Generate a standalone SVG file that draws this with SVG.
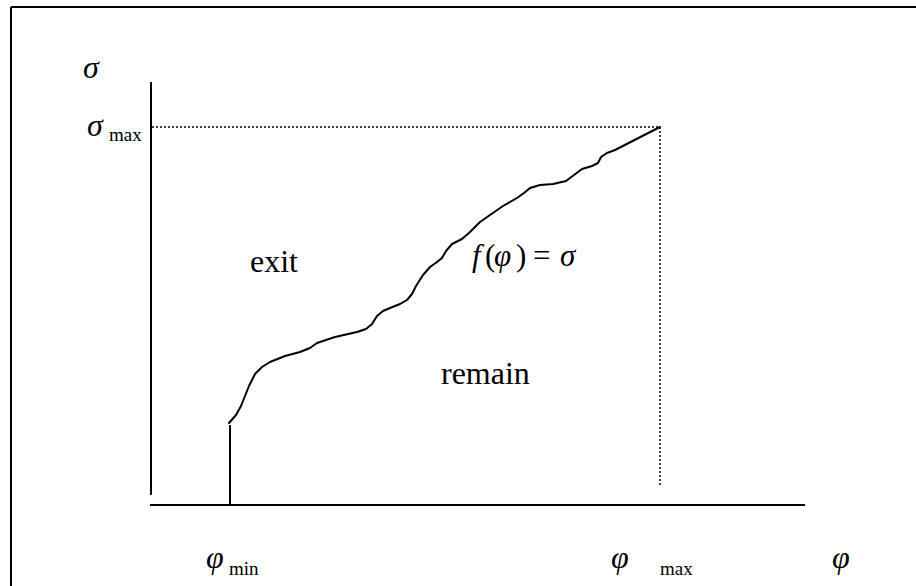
<svg xmlns="http://www.w3.org/2000/svg" width="916" height="586" viewBox="0 0 916 586">
<style>
.t{font-family:'Liberation Serif','DejaVu Serif','Times New Roman',serif;fill:#000}
.i{font-style:italic}
.ax{stroke:#000;stroke-width:2;fill:none}
.dot{stroke:#000;stroke-width:1.5;stroke-dasharray:2 2;fill:none}
</style>
<rect width="916" height="586" fill="#fff"/>
<g id="frame">
<line x1="11" y1="7" x2="916" y2="7" class="ax"/>
<line x1="11" y1="7" x2="11" y2="586" class="ax"/>
</g>
<g id="axes">
<line x1="151" y1="82" x2="151" y2="495" class="ax"/>
<line x1="150" y1="505" x2="805" y2="505" class="ax"/>
</g>
<g id="guides">
<line x1="152" y1="127" x2="660" y2="127" class="dot"/>
<line x1="660" y1="127" x2="660" y2="485" class="dot"/>
</g>
<g id="connectors">
<line x1="230" y1="425" x2="230" y2="505" class="ax"/>
<polyline class="ax" stroke-linejoin="round" stroke-linecap="round" points="229,423 236,415 241,406 245,396 249,386 255,374 262,367 270,362 285,356 300,352 310,348 317,343 335,337 357,332 366,329 372,324 377,316 383,311 390,308 400,304 407,300 412,294 416,286 423,275 430,267 437,262 442,258 446,251 452,244 462,239 470,232 480,222 490,215 503,206 517,198 524,193 530,188 540,185 553,184 566,181 574,175 582,169 592,166 598,163 601,157 607,153 615,150 660,127"/>
</g>
<g id="labels" font-family="'Liberation Serif','DejaVu Serif',serif">
<text class="t i" x="83" y="78" font-size="32">σ</text>
<text class="t i" x="87" y="136" font-size="32">σ</text>
<text class="t" x="109" y="141" font-size="19">max</text>
<text class="t" x="250" y="272" font-size="32">exit</text>
<text class="t" y="266" font-size="31"><tspan class="i" x="472">f</tspan><tspan x="485">(</tspan><tspan class="i" x="494">φ</tspan><tspan x="516">)</tspan><tspan x="533">=</tspan><tspan class="i" x="560">σ</tspan></text>
<text class="t" x="441" y="384" font-size="32">remain</text>
<text class="t i" x="206" y="568" font-size="32">φ</text>
<text class="t" x="229" y="575" font-size="19">min</text>
<text class="t i" x="611" y="568" font-size="32">φ</text>
<text class="t" x="660" y="575" font-size="19">max</text>
<text class="t i" x="832" y="568" font-size="32">φ</text>
</g>
</svg>
